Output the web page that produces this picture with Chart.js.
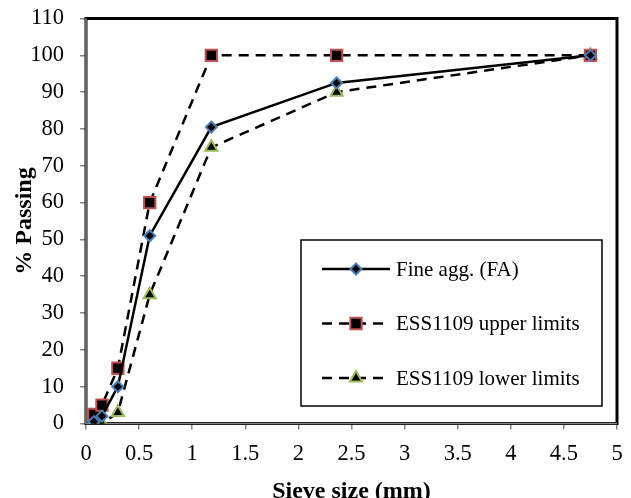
<!DOCTYPE html>
<html>
<head>
<meta charset="utf-8">
<script src="https://cdn.jsdelivr.net/npm/chart.js@4.4.0/dist/chart.umd.min.js"></script>
<style>
  html, body { margin: 0; padding: 0; background: #fff; }
  canvas { display: block; }
</style>
</head>
<body>
<canvas id="gradingChart" width="631" height="498"></canvas>
<script>
// sieve sizes (mm) and % passing
const sieveSizes = [0.075, 0.15, 0.3, 0.6, 1.18, 2.36, 4.75];
const fineAgg = [0.5, 2, 10, 51, 80.5, 92.5, 100];
const upperLimits = [2.5, 5, 15, 60, 100, 100, 100];
const lowerLimits = [0, 0, 3, 35, 75, 90, 100];
const seriesNames = ['Fine agg. (FA)', 'ESS1109 upper limits', 'ESS1109 lower limits'];

const serif = "'Liberation Serif', 'Times New Roman', serif";
const toPoints = vals => sieveSizes.map((s, i) => ({ x: s, y: vals[i] }));

// marker shapes, same geometry as chart.js uses for the points
function marker(ctx, style, x, y, r, fill, stroke) {
    ctx.save();
    ctx.setLineDash([]);
    ctx.fillStyle = fill;
    ctx.strokeStyle = stroke;
    ctx.lineWidth = 2;
    ctx.beginPath();
    if (style === 'rectRot') {
        ctx.moveTo(x, y - r); ctx.lineTo(x + r, y); ctx.lineTo(x, y + r); ctx.lineTo(x - r, y);
    } else if (style === 'rect') {
        const s = r * Math.SQRT1_2;
        ctx.rect(x - s, y - s, 2 * s, 2 * s);
    } else {
        for (let k = 0; k < 3; k++) {
            const a = k * 2 * Math.PI / 3;
            ctx[k ? 'lineTo' : 'moveTo'](x + Math.sin(a) * r, y - Math.cos(a) * r);
        }
    }
    ctx.closePath();
    ctx.fill();
    ctx.stroke();
    ctx.restore();
}

// plot frame + legend box inside the plot
const frameAndLegend = {
    id: 'frameAndLegend',
    beforeDatasetsDraw(chart) {
        const { ctx, chartArea: a } = chart;
        ctx.save();
        ctx.strokeStyle = '#000';
        ctx.lineWidth = 3;
        ctx.strokeRect(a.left, a.top, a.right - a.left, a.bottom - a.top);
        ctx.strokeStyle = '#868686';
        ctx.lineWidth = 1.5;
        ctx.beginPath();
        ctx.moveTo(a.left, a.top);
        ctx.lineTo(a.left, a.bottom);
        ctx.lineTo(a.right, a.bottom);
        ctx.stroke();
        ctx.restore();
    },
    afterDraw(chart) {
        const ctx = chart.ctx;
        ctx.save();
        ctx.fillStyle = '#fff';
        ctx.fillRect(301, 240, 301, 166);
        ctx.strokeStyle = '#000';
        ctx.lineWidth = 1.5;
        ctx.strokeRect(301, 240, 301, 166);

        chart.data.datasets.forEach((ds, i) => {
            const y = 269 + i * 54.5;
            ctx.strokeStyle = '#000';
            ctx.lineWidth = 2.5;
            ctx.setLineDash(ds.borderDash || []);
            ctx.beginPath();
            ctx.moveTo(322, y);
            ctx.lineTo(390, y);
            ctx.stroke();
            marker(ctx, ds.pointStyle, 356, y, ds.pointRadius, '#000', ds.pointBorderColor);
            ctx.setLineDash([]);
            ctx.fillStyle = '#000';
            ctx.font = '21px ' + serif;
            ctx.textBaseline = 'middle';
            ctx.textAlign = 'left';
            ctx.fillText(ds.label, 396, y + 1);
        });
        ctx.restore();
    }
};

new Chart(document.getElementById('gradingChart'), {
    type: 'line',
    data: {
        datasets: [
            {
                label: seriesNames[0],
                data: toPoints(fineAgg),
                borderColor: '#000',
                borderWidth: 2.5,
                pointStyle: 'rectRot',
                pointRadius: 5.5,
                pointBackgroundColor: '#000',
                pointBorderColor: '#4a7ebb',
                pointBorderWidth: 2
            },
            {
                label: seriesNames[1],
                data: toPoints(upperLimits),
                borderColor: '#000',
                borderWidth: 2.5,
                borderDash: [10, 7],
                pointStyle: 'rect',
                pointRadius: 8,
                pointBackgroundColor: '#000',
                pointBorderColor: '#c0504d',
                pointBorderWidth: 2
            },
            {
                label: seriesNames[2],
                data: toPoints(lowerLimits),
                borderColor: '#000',
                borderWidth: 2.5,
                borderDash: [10, 7],
                pointStyle: 'triangle',
                pointRadius: 7,
                pointBackgroundColor: '#000',
                pointBorderColor: '#9bbb59',
                pointBorderWidth: 2
            }
        ]
    },
    options: {
        responsive: false,
        animation: false,
        layout: { padding: { top: 18.5, right: 14, left: 0, bottom: 0 } },
        plugins: { legend: { display: false }, tooltip: { enabled: false } },
        scales: {
            x: {
                type: 'linear',
                min: 0,
                max: 5,
                border: { display: false },
                grid: { drawOnChartArea: false, color: '#868686', tickLength: 6, lineWidth: 1.5 },
                ticks: {
                    stepSize: 0.5,
                    color: '#000',
                    font: { family: serif, size: 22.5 },
                    padding: 11,
                    maxRotation: 0,
                    callback: v => String(v)
                },
                title: {
                    display: true,
                    text: 'Sieve size (mm)',
                    color: '#000',
                    font: { family: serif, size: 24, weight: 'bold', lineHeight: 0.6 },
                    padding: { top: 0, bottom: -1 }
                },
                afterFit: s => { s.height = 74.5; s.paddingLeft = 0; s.paddingRight = 0; }
            },
            y: {
                min: 0,
                max: 110,
                border: { display: false },
                grid: { drawOnChartArea: false, color: '#868686', tickLength: 6, lineWidth: 1.5 },
                ticks: { stepSize: 10, color: '#000', font: { family: serif, size: 22.5 }, padding: 16 },
                title: {
                    display: true,
                    text: '% Passing',
                    color: '#000',
                    font: { family: serif, size: 24, weight: 'bold', lineHeight: 0.6 },
                    padding: { top: 18, bottom: 0 }
                },
                afterFit: s => { s.width = 86; s.paddingTop = 0; s.paddingBottom = 0; }
            }
        }
    },
    plugins: [frameAndLegend]
});
</script>
</body>
</html>
